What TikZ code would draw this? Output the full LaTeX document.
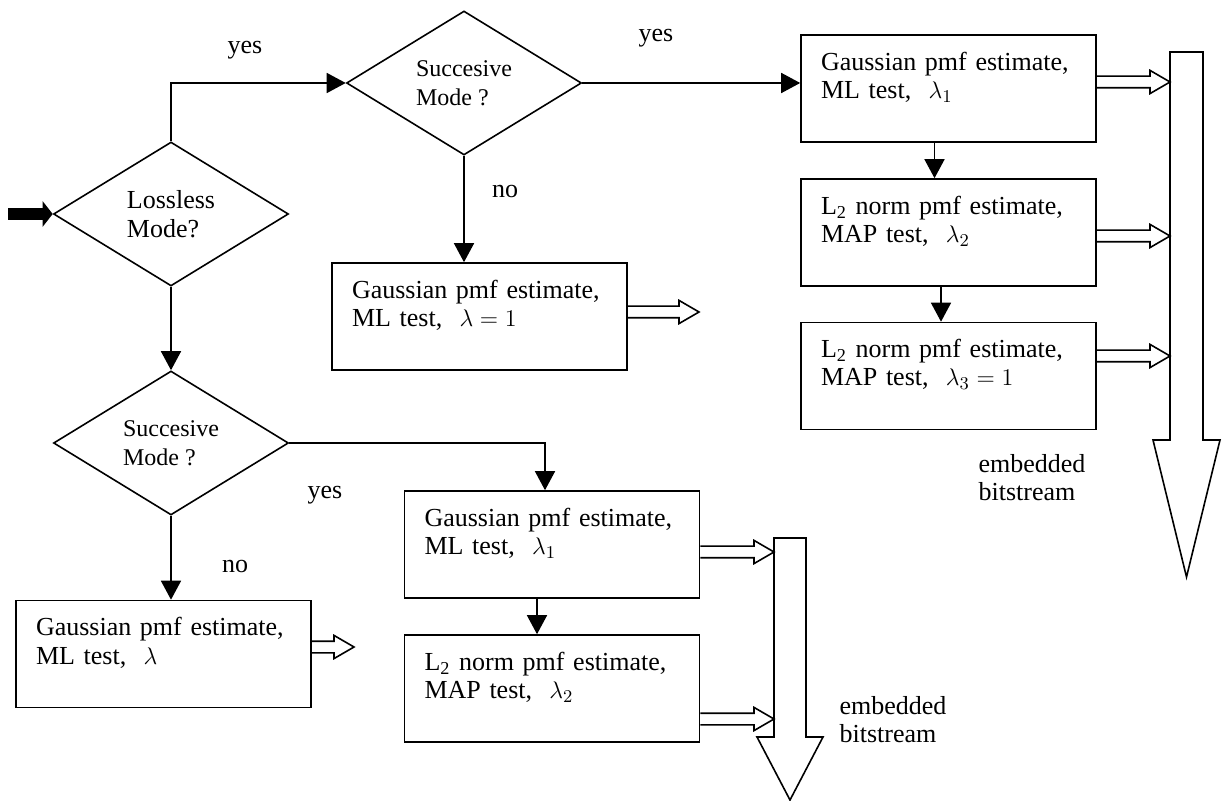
\documentclass[tikz,border=0pt]{standalone}
\usepackage{fontspec}
\setmainfont{Liberation Serif}
\usetikzlibrary{shapes.geometric,arrows.meta,calc}

% block arrow with an open head, from a node side to a coordinate
\newcommand{\hollowarr}[2]{%
  \draw[hollow] let \p1=(#1), \p2=(#2) in
    (\x1,\y1+2.9pt) -- (\x2-10pt,\y1+2.9pt) -- (\x2-10pt,\y1+5.8pt) -- (\x2,\y1)
    -- (\x2-10pt,\y1-5.8pt) -- (\x2-10pt,\y1-2.9pt) -- (\x1,\y1-2.9pt);}

\begin{document}
\begin{tikzpicture}
[
  x=0.5pt, y=-0.5pt,
  line width=0.8pt,
  font=\fontsize{13}{14}\selectfont,
  box/.style={draw,minimum width=147.5pt,minimum height=53.5pt,text width=127.5pt,
    inner xsep=10pt,align=left,text height=9pt,text depth=27pt},
  dec/.style={draw,diamond,aspect=1.63,minimum width=117.5pt,minimum height=72pt,
    inner sep=0pt,align=left,font=\fontsize{12}{14.5}\selectfont},
  arr/.style={-{Triangle[length=9.5pt,width=10pt]}},
  hollow/.style={line width=0.8pt},
  big/.style={line width=0.8pt},
  lbl/.style={inner sep=0pt,align=left}
]
\useasboundingbox (0,0) rectangle (1226,801);

% decisions
\node[dec,font=\fontsize{13}{14.5}\selectfont] (loss) at (171,214) {Lossless\\Mode?};
\node[dec] (suc1) at (464,83) {Succesive\\Mode ?};
\node[dec] (suc2) at (171,443) {Succesive\\Mode ?};

% estimators
\node[box] (g0) at (479.5,316.5) {Gaussian pmf estimate,\\ML test, \ $\lambda=1$};
\node[box] (tr1) at (948.5,88.5) {Gaussian pmf estimate,\\ML test, \ $\lambda_1$};
\node[box] (tr2) at (948.5,232.5) {L\textsubscript{2} norm pmf estimate,\\MAP test, \ $\lambda_2$};
\node[box] (tr3) at (948.5,376) {L\textsubscript{2} norm pmf estimate,\\MAP test, \ $\lambda_3=1$};
\node[box] (ll) at (163.5,654) {Gaussian pmf estimate,\\ML test, \ $\lambda$};
\node[box] (lm1) at (552,544.5) {Gaussian pmf estimate,\\ML test, \ $\lambda_1$};
\node[box] (lm2) at (552,688.5) {L\textsubscript{2} norm pmf estimate,\\MAP test, \ $\lambda_2$};

% embedded streams
\draw[big] (1170,52) -- (1203,52) -- (1203,440) -- (1220,440) -- (1186.5,577)
  -- (1153,440) -- (1170,440) -- cycle;
\draw[big] (774,538) -- (806,538) -- (806,737) -- (823,737) -- (790,800)
  -- (757,737) -- (774,737) -- cycle;
\coordinate (bs1) at (1170,0);
\coordinate (bs2) at (774,0);
\node[lbl] (emb1) at (1032,478) {embedded\\bitstream};
\node[lbl] (emb2) at (893,720) {embedded\\bitstream};

% flow
\coordinate (entry) at (8,214);
\draw[line width=6pt,-{Triangle[length=5pt,width=12.5pt]}] (entry) -- (loss.west);
\draw[arr] (loss.north) |- (suc1.west);
\draw[arr] (suc1.east) -- (suc1.east -| tr1.west);
\draw[arr] (suc1.south) -- (suc1.south |- g0.north);
\draw[arr] (loss.south) -- (suc2.north);
\draw[arr] (suc2.east) -| ([xshift=-3.5pt]lm1.north);
\draw[arr] (suc2.south) -- (suc2.south |- ll.north);
\draw[arr] ([xshift=-7pt]tr1.south) -- ([xshift=-7pt]tr2.north);
\draw[arr] ([xshift=-3.75pt]tr2.south) -- ([xshift=-3.75pt]tr3.north);
\draw[arr] ([xshift=-7.5pt]lm1.south) -- ([xshift=-7.5pt]lm2.north);

\node[lbl] (yes1) at (245,50) {yes};
\node[lbl] (yes2) at (656,38) {yes};
\node[lbl] (no1) at (505,192) {no};
\node[lbl] (yes3) at (325,495) {yes};
\node[lbl] (no2) at (235,567) {no};

% outputs
\coordinate (g0tip) at (699,0);
\coordinate (lltip) at (354,0);
\hollowarr{[yshift=2.25pt]g0.east}{g0tip}
\hollowarr{[yshift=3.5pt]ll.east}{lltip}
\hollowarr{[yshift=3.25pt]tr1.east}{bs1}
\hollowarr{[yshift=-1.75pt]tr2.east}{bs1}
\hollowarr{[yshift=10pt]tr3.east}{bs1}
\hollowarr{[yshift=-3.75pt]lm1.east}{bs2}
\hollowarr{[yshift=-15.25pt]lm2.east}{bs2}

\end{tikzpicture}
\end{document}
